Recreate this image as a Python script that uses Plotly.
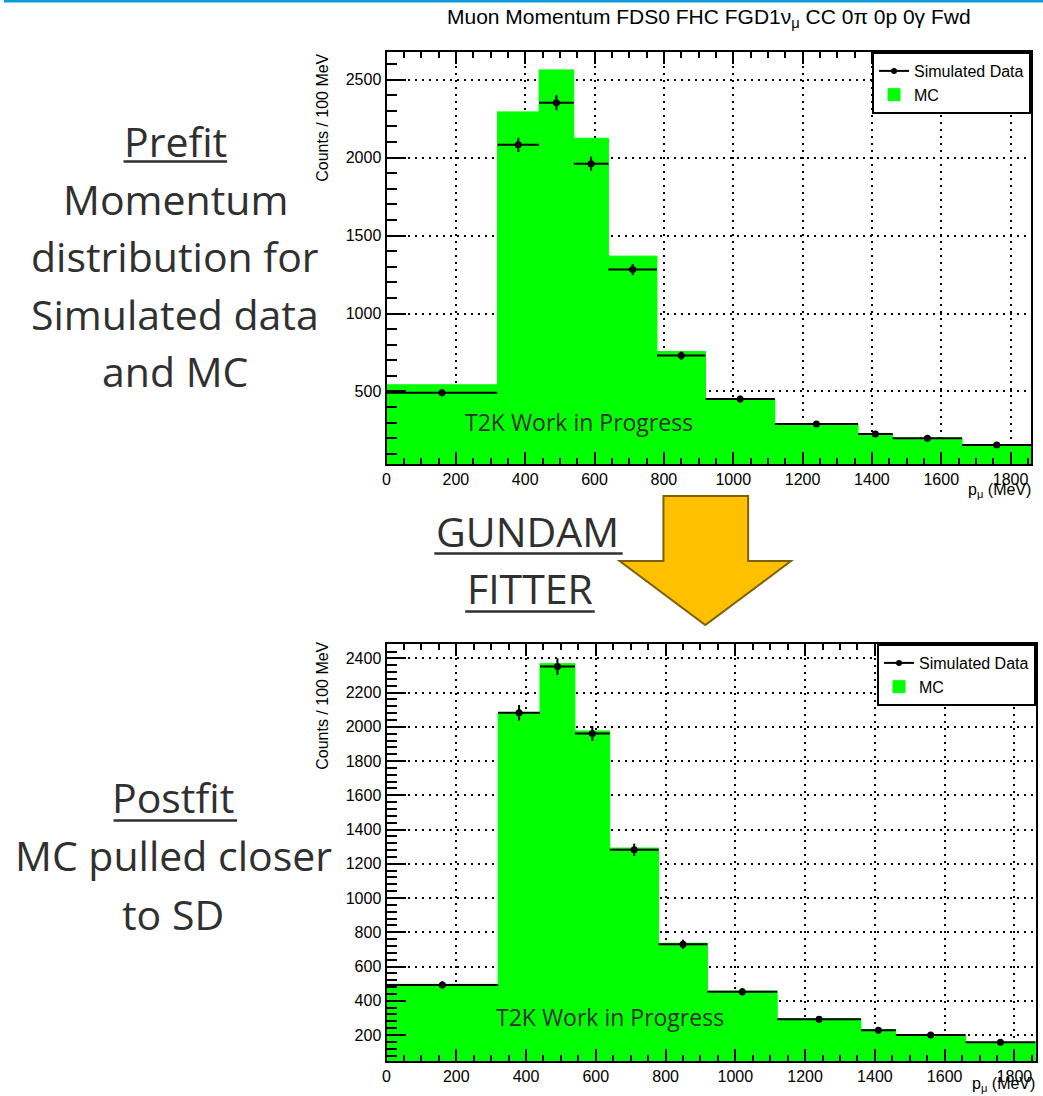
import numpy as np
import plotly.graph_objects as go

W, H = 1043, 1096

# Histogram binning of the muon momentum (MeV)
bin_edges = [0, 320, 440, 540, 640, 780, 920, 1120, 1360, 1460, 1660, 1860]
# Simulated data counts per bin (same sample before and after the fit)
sim_data = [492, 2082, 2352, 1961, 1282, 730, 452, 292, 228, 200, 157]
# MC prediction before and after the GUNDAM fit
mc_prefit = [543, 2293, 2562, 2124, 1368, 756, 453, 293, 231, 201, 158]
mc_postfit = [496, 2079, 2369, 1976, 1292, 736, 457, 295, 231, 200, 157]

edges = np.array(bin_edges, dtype=float)
centers = 0.5 * (edges[:-1] + edges[1:])
widths = np.diff(edges)
half_widths = widths / 2
stat_err = np.sqrt(np.array(sim_data, dtype=float))


def fx(px):
    return px / W


def fy(py):
    return 1 - py / H


ROOT_FONT = "Liberation Sans, Arial, Helvetica, sans-serif"
SLIDE_FONT = "Open Sans, Calibri, sans-serif"
SLIDE_COLOR = "#303030"
GREEN = "#00FF00"

fig = go.Figure()

panels = [
    dict(mc=mc_prefit, xa="x", ya="y", legend="legend"),
    dict(mc=mc_postfit, xa="x2", ya="y2", legend="legend2"),
]

for p in panels:
    # legend entry for the data (line + marker like a ROOT "lep" entry)
    fig.add_trace(go.Scatter(
        x=[None], y=[None], mode="lines+markers", name="Simulated Data",
        line=dict(color="black", width=2), marker=dict(color="black", size=6),
        xaxis=p["xa"], yaxis=p["ya"], legend=p["legend"],
    ))
    fig.add_trace(go.Scatter(
        x=centers, y=sim_data, mode="markers", name="Simulated Data",
        marker=dict(color="black", size=7),
        error_x=dict(type="data", array=half_widths, width=0, thickness=2, color="black"),
        error_y=dict(type="data", array=stat_err, width=0, thickness=2, color="black"),
        xaxis=p["xa"], yaxis=p["ya"], showlegend=False,
    ))
    # filled MC histogram; a thin outline in the fill colour hides seams between bins
    fig.add_trace(go.Bar(
        x=centers, y=p["mc"], width=widths, name="MC",
        marker=dict(color=GREEN, line=dict(width=1, color=GREEN)),
        xaxis=p["xa"], yaxis=p["ya"], legend=p["legend"],
    ))


def xaxis_style(domain, rng):
    return dict(
        domain=domain, range=rng, tick0=0, dtick=200,
        ticks="inside", ticklen=12, tickwidth=2, tickcolor="black",
        minor=dict(dtick=50, ticks="inside", ticklen=6, tickwidth=1.5, tickcolor="black", showgrid=False),
        showline=True, linecolor="black", linewidth=2, mirror="ticks",
        showgrid=True, gridcolor="black", gridwidth=1.8, griddash="2px,5px",
        zeroline=False, tickfont=dict(family=ROOT_FONT, size=16, color="black"),
        fixedrange=True,
    )


def yaxis_style(domain, rng, dtick, minor):
    return dict(
        domain=domain, range=rng, dtick=dtick, tick0=0,
        ticks="inside", ticklen=19, tickwidth=2, tickcolor="black",
        minor=dict(dtick=minor, ticks="inside", ticklen=10, tickwidth=1.5, tickcolor="black", showgrid=False),
        showline=True, linecolor="black", linewidth=2, mirror=True,
        showgrid=True, gridcolor="black", gridwidth=1.8, griddash="2px,5px",
        zeroline=False, tickfont=dict(family=ROOT_FONT, size=16, color="black"),
        fixedrange=True,
    )


def legend_style(right_px, top_px):
    return dict(
        x=fx(right_px), y=fy(top_px), xanchor="right", yanchor="top",
        bgcolor="white", bordercolor="black", borderwidth=2,
        font=dict(family=ROOT_FONT, size=16, color="black"),
        tracegroupgap=0, itemwidth=30, traceorder="normal",
    )


fig.update_layout(
    width=W, height=H, autosize=False,
    margin=dict(l=0, r=0, t=0, b=0),
    paper_bgcolor="white", plot_bgcolor="white",
    barmode="overlay",
    xaxis=xaxis_style([fx(384), fx(1031)], [0, 1859]),
    yaxis=yaxis_style([fy(464), fy(52)], [35, 2677], 500, 100),
    xaxis2=xaxis_style([fx(384), fx(1036)], [0, 1862]),
    yaxis2=yaxis_style([fy(1061), fy(644)], [48, 2484], 200, 40),
    legend=legend_style(1031, 52),
    legend2=legend_style(1036, 644),
)
fig.update_layout(xaxis2_anchor="y2", yaxis2_anchor="x2")

annotations = []


def slide_text(text, cx, cy, size=41, color=SLIDE_COLOR, family=SLIDE_FONT):
    annotations.append(dict(
        text=text, x=fx(cx), y=fy(cy), xref="paper", yref="paper",
        xanchor="center", yanchor="middle", showarrow=False,
        font=dict(family=family, size=size, color=color),
    ))


# Left-hand slide captions
for text, cy in [("Prefit", 141), ("Momentum", 199), ("distribution for", 256),
                 ("Simulated data", 314), ("and MC", 371)]:
    slide_text(text, 172, cy)
for text, cy in [("Postfit", 797), ("MC pulled closer", 855), ("to SD", 914)]:
    slide_text(text, 170, cy)

slide_text("GUNDAM", 526, 531)
slide_text("FITTER", 528, 588)

# Watermarks inside the histograms
slide_text("T2K Work in Progress", 577, 422, size=23)
slide_text("T2K Work in Progress", 608, 1017, size=23)

# Histogram title
slide_text("Muon Momentum FDS0 FHC FGD1ν<sub>μ</sub> CC 0π 0p 0γ Fwd", 708, 18,
           size=21, color="black", family=ROOT_FONT)

# Axis titles in ROOT style (right / top aligned)
for cy in (118, 706):
    annotations.append(dict(
        text="Counts / 100 MeV", x=fx(319), y=fy(cy), xref="paper", yref="paper",
        xanchor="center", yanchor="middle", showarrow=False, textangle=-90,
        font=dict(family=ROOT_FONT, size=16, color="black"),
    ))
for rx, cy in ((1033, 490), (1037, 1084)):
    annotations.append(dict(
        text="p<sub>μ</sub> (MeV)", x=fx(rx), y=fy(cy), xref="paper", yref="paper",
        xanchor="right", yanchor="middle", showarrow=False,
        font=dict(family=ROOT_FONT, size=16, color="black"),
    ))

fig.update_layout(annotations=annotations)

shapes = []
# Slide header rule
shapes.append(dict(type="rect", xref="paper", yref="paper", x0=0, x1=1,
                   y0=fy(2.5), y1=1, fillcolor="#0B9BD8", line=dict(width=0)))
# Underlines of the headings
for x0, x1, y in [(120, 224, 161.5), (110, 234, 820.5), (432, 621, 553.5), (463, 593, 611.5)]:
    shapes.append(dict(type="line", xref="paper", yref="paper",
                       x0=fx(x0), x1=fx(x1), y0=fy(y), y1=fy(y),
                       line=dict(color=SLIDE_COLOR, width=2.5)))
# Block arrow between prefit and postfit
arrow_px = [(662, 496), (747, 496), (747, 561), (790, 561), (704, 625), (618, 561), (662, 561)]
path = "M " + " L ".join(f"{fx(x):.5f},{fy(y):.5f}" for x, y in arrow_px) + " Z"
shapes.append(dict(type="path", xref="paper", yref="paper", path=path,
                   fillcolor="#FFC000", line=dict(color="#7F6000", width=2)))
fig.update_layout(shapes=shapes)

fig.write_html("out.html")
